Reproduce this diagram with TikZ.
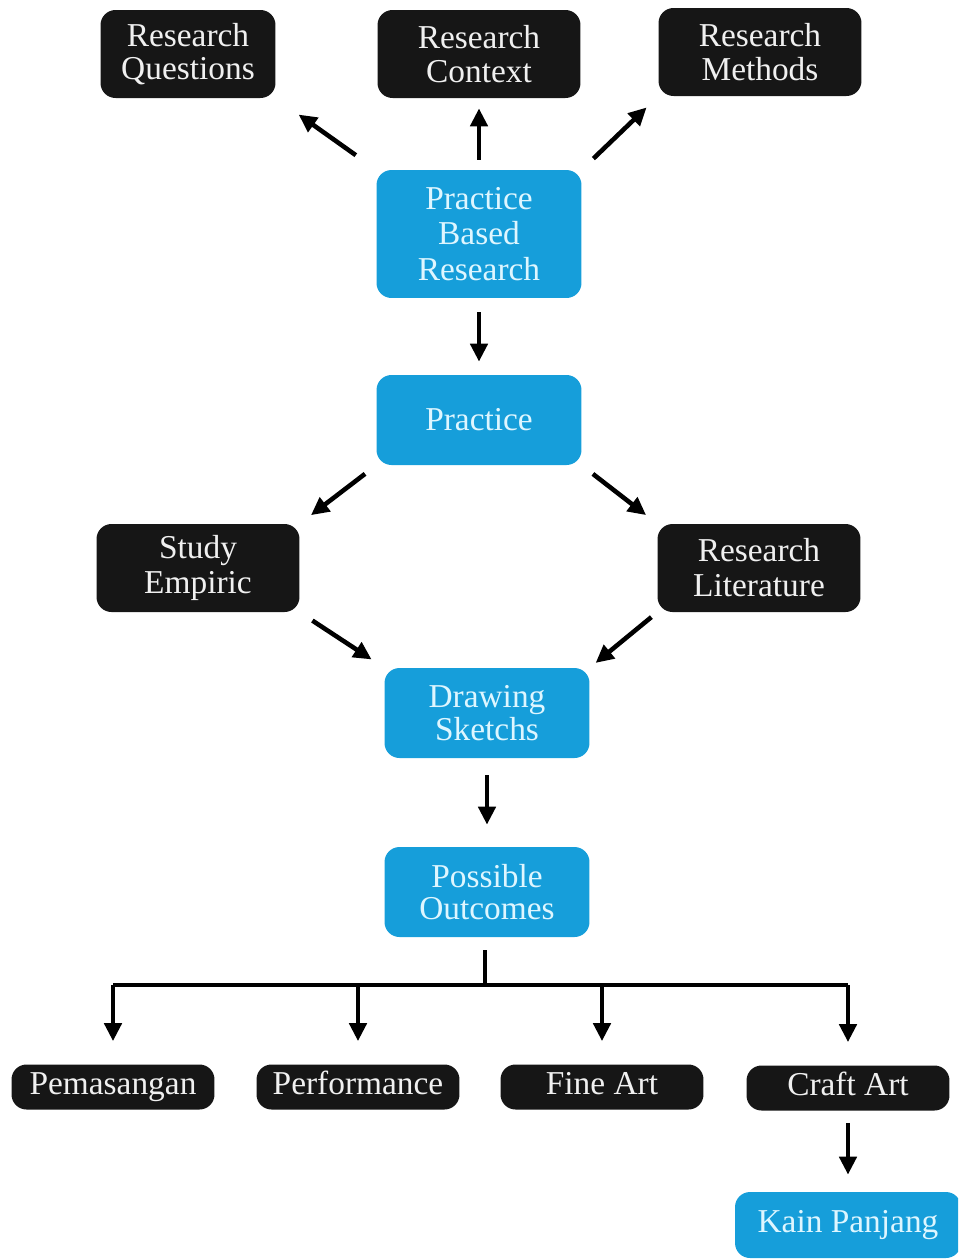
\documentclass[tikz,border=0pt]{standalone}
\usepackage{fontspec}
\setmainfont{Liberation Serif}
\usetikzlibrary{arrows.meta}
\definecolor{boxblue}{RGB}{22,158,218}
\definecolor{boxblack}{RGB}{22,22,22}
\definecolor{bluetext}{RGB}{222,246,255}

\begin{document}
\begin{tikzpicture}[x=0.02cm,y=-0.02cm,
  blk/.style={fill=boxblack,text=white!94!black,rounded corners=0.3cm,align=center,
    inner sep=0pt,minimum width=4.06cm,minimum height=1.76cm,font=\fontsize{19}{19}\selectfont},
  blu/.style={fill=boxblue,text=bluetext,rounded corners=0.3cm,align=center,
    inner sep=0pt,minimum width=4.1cm,minimum height=1.8cm,font=\fontsize{19}{20}\selectfont},
  low/.style={minimum height=0.9cm,text height=13pt,text depth=4pt},
  arr/.style={line width=2.6pt,-{Triangle[length=0.36cm,width=0.34cm]}}]
  \useasboundingbox (0,0) rectangle (958,1259);
  \clip (0,0) rectangle (958,1259);
  \node[blk,minimum width=3.5cm] (rq) at (188,54) {Research\\Questions};
  \node[blk] (rc) at (479,54) {Research\\Context};
  \node[blk] (rm) at (760,52) {Research\\Methods};
  \node[blu,minimum height=2.56cm] (pbr) at (479,234) {Practice\\Based\\Research};
  \node[blu] (pr) at (479,420) {Practice};
  \node[blk,font=\fontsize{19}{20}\selectfont] (se) at (198,568) {Study\\Empiric};
  \node[blk,font=\fontsize{19}{20}\selectfont] (rl) at (759,568) {Research\\Literature};
  \node[blu,font=\fontsize{19}{19}\selectfont] (ds) at (487,713) {Drawing\\Sketchs};
  \node[blu,font=\fontsize{19}{18}\selectfont] (po) at (487,892) {Possible\\Outcomes};
  \node[blk,low] (pem) at (113,1087) {Pemasangan};
  \node[blk,low] (perf) at (358,1087) {Performance};
  \node[blk,low] (fine) at (602,1087) {Fine Art};
  \node[blk,low] (craft) at (848,1088) {Craft Art};
  \node[blu,minimum width=4.52cm,minimum height=1.32cm] (kain) at (848,1225) {Kain Panjang};
  \coordinate (fork) at (485,985);
  \draw[arr,shorten <=0.5cm,shorten >=0.56cm] (pbr.north west) -- (rq.south east);
  \draw[arr,shorten <=0.2cm,shorten >=0.2cm] (pbr.north) -- (rc.south);
  \draw[arr,shorten <=0.32cm,shorten >=0.32cm] (pbr.north east) -- (rm.south west);
  \draw[arr,shorten <=0.28cm,shorten >=0.26cm] (pbr.south) -- (pr.north);
  \draw[arr,shorten <=0.28cm,shorten >=0.28cm] (pr.south west) -- (se.north east);
  \draw[arr,shorten <=0.28cm,shorten >=0.28cm] (pr.south east) -- (rl.north west);
  \draw[arr,shorten <=0.3cm,shorten >=0.3cm] (se.south east) -- (ds.north west);
  \draw[arr,shorten <=0.15cm,shorten >=0.15cm] (rl.south west) -- (ds.north east);
  \draw[arr,shorten <=0.34cm,shorten >=0.44cm] (ds.south) -- (po.north);
  \draw[line width=2.4pt,shorten <=0.26cm] (po.south -| fork) -- (fork);
  \draw[line width=2.4pt] (pem |- fork) -- (craft |- fork);
  \foreach \b in {pem,perf,fine,craft}
    \draw[arr] (\b |- fork) -- ([yshift=0.46cm]\b.north);
  \draw[arr,shorten <=0.24cm,shorten >=0.34cm] (craft.south) -- (kain.north);
\end{tikzpicture}
\end{document}
